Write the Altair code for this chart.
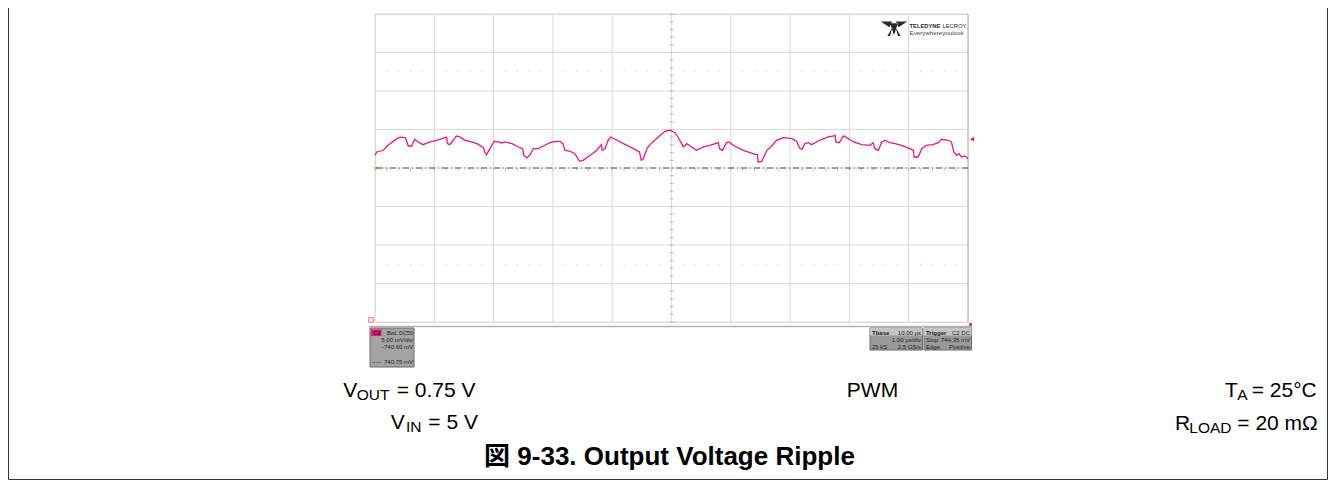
import altair as alt
import pandas as pd

# ---------------- data ----------------
time_us = [0.00, 0.03, 0.14, 0.22, 0.37, 0.42, 0.51, 0.53, 0.56, 0.62,
           0.65, 0.67, 0.73, 0.81, 0.93, 1.04, 1.18, 1.21, 1.22, 1.26,
           1.32, 1.37, 1.43, 1.52, 1.60, 1.72, 1.83, 1.85, 1.88, 1.94,
           2.01, 2.08, 2.14, 2.19, 2.31, 2.42, 2.49, 2.51, 2.56, 2.61,
           2.67, 2.75, 2.84, 2.95, 3.04, 3.12, 3.17, 3.20, 3.29, 3.37,
           3.45, 3.51, 3.63, 3.74, 3.82, 3.83, 3.88, 3.93, 3.97, 4.05,
           4.19, 4.36, 4.46, 4.49, 4.52, 4.59, 4.67, 4.81, 4.89, 4.97,
           5.06, 5.11, 5.17, 5.20, 5.26, 5.34, 5.42, 5.54, 5.65, 5.79,
           5.81, 5.86, 5.93, 5.97, 6.04, 6.21, 6.41, 6.45, 6.46, 6.52,
           6.61, 6.69, 6.77, 6.89, 7.03, 7.11, 7.16, 7.20, 7.25, 7.31,
           7.36, 7.50, 7.64, 7.74, 7.76, 7.77, 7.83, 7.90, 7.98, 8.07,
           8.21, 8.35, 8.40, 8.43, 8.49, 8.54, 8.60, 8.68, 8.77, 8.88,
           9.02, 9.08, 9.09, 9.16, 9.22, 9.30, 9.41, 9.50, 9.55, 9.66,
           9.72, 9.76, 9.81, 9.85, 9.89, 9.95, 10.00]
vout_mv = [742.25, 742.68, 742.90, 743.55, 744.41, 744.59, 744.54, 744.20, 743.46, 743.46,
           743.98, 744.33, 743.98, 743.63, 743.98, 744.20, 744.54, 744.59, 743.76, 743.63,
           744.20, 744.76, 744.63, 744.20, 744.07, 743.76, 743.24, 742.68, 742.33, 743.11,
           744.07, 743.98, 743.85, 743.98, 743.76, 743.33, 743.11, 742.25, 741.90, 742.25,
           743.11, 743.11, 743.46, 743.89, 744.07, 744.07, 743.76, 742.90, 742.77, 742.46,
           741.47, 741.60, 742.25, 742.90, 743.63, 742.90, 743.11, 744.20, 744.63, 744.33,
           743.76, 743.11, 742.68, 741.60, 741.73, 743.20, 743.89, 744.85, 745.37, 745.50,
           745.18, 744.63, 743.76, 743.33, 743.76, 743.33, 742.90, 743.33, 743.55, 743.89,
           743.11, 742.90, 743.89, 743.98, 743.55, 742.90, 742.38, 742.33, 741.38, 741.47,
           742.90, 743.46, 744.20, 744.54, 744.41, 744.07, 743.20, 743.03, 743.76, 743.89,
           743.63, 744.20, 744.63, 744.76, 744.85, 743.98, 743.89, 744.76, 744.41, 743.98,
           743.63, 743.55, 743.89, 743.11, 742.90, 743.89, 744.20, 743.89, 743.76, 743.55,
           743.11, 742.90, 742.03, 742.03, 743.11, 743.55, 743.63, 743.89, 744.33, 744.20,
           743.98, 742.68, 742.25, 742.46, 742.03, 742.16, 741.81]

x_divs = [0, 1, 2, 3, 4, 5, 6, 7, 8, 9, 10]                 # 1 us/div
y_divs = [720.6, 725.6, 730.6, 735.6, 740.6, 745.6, 750.6, 755.6, 760.6]  # 5 mV/div
offset_mv = 740.6
trigger_mv = 744.35

W, H = 593, 308
PL, PT = 367, 6           # plot origin at page (375, 14)
TRACE = "#f0157d"
GRID = "#dadada"
FONT = "Liberation Sans"
BIG, SUB = 21, 15.5

xs = alt.Scale(domain=[0, 10], nice=False, zero=False)
ys = alt.Scale(domain=[720.6, 760.6], nice=False, zero=False)

one = alt.Data(values=[{"a": 1}])


def px(page_x):
    return page_x - 375


def py(page_y):
    return page_y - 14


def text(s, x, y, size=BIG, align="left", weight="normal", color="#000000", font=FONT):
    return alt.Chart(one).mark_text(
        align=align, baseline="alphabetic", fontSize=size, fontWeight=weight,
        color=color, font=font
    ).encode(x=alt.value(px(x)), y=alt.value(py(y)), text=alt.value(s))


def rect(x1, y1, x2, y2, fill, stroke=None, sw=0):
    kw = dict(fill=fill)
    if stroke:
        kw.update(stroke=stroke, strokeWidth=sw)
    return alt.Chart(one).mark_rect(**kw).encode(
        x=alt.value(px(x1)), x2=alt.value(px(x2)),
        y=alt.value(py(y1)), y2=alt.value(py(y2)))


def hline(x1, x2, y, color, sw=1):
    return alt.Chart(one).mark_rule(color=color, strokeWidth=sw).encode(
        x=alt.value(px(x1)), x2=alt.value(px(x2)), y=alt.value(py(y)))


def vline(x, y1, y2, color, sw=1):
    return alt.Chart(one).mark_rule(color=color, strokeWidth=sw).encode(
        x=alt.value(px(x)), y=alt.value(py(y1)), y2=alt.value(py(y2)))


layers = []

# outer frame (top edge lies above the visible page)
layers.append(vline(8.5, 0, 479.5, "#333333"))
layers.append(vline(1327.5, 0, 479.5, "#333333"))
layers.append(hline(8.5, 1327.5, 479.5, "#333333"))

# grid
layers.append(alt.Chart(pd.DataFrame({"g": x_divs})).mark_rule(color=GRID, strokeWidth=1).encode(
    x=alt.X("g:Q", scale=xs, axis=None)))
layers.append(alt.Chart(pd.DataFrame({"g": y_divs})).mark_rule(color=GRID, strokeWidth=1).encode(
    y=alt.Y("g:Q", scale=ys, axis=None)))
layers.append(vline(968, 14, 322, "#c8c8c8", 1.5))

# dotted markers at +/- 2.5 div
dot_x = [i + f for i in range(10) for f in (0.2, 0.4, 0.6, 0.8)]
dots = pd.DataFrame({"x": dot_x * 2,
                     "y": [offset_mv + 12.5] * len(dot_x) + [offset_mv - 12.5] * len(dot_x)})
layers.append(alt.Chart(dots).mark_square(size=1.3, color="#c0c0c0", opacity=1).encode(
    x=alt.X("x:Q", scale=xs, axis=None), y=alt.Y("y:Q", scale=ys, axis=None)))

# minor ticks on center lines
ymin = [720.6 + i for i in range(41)]
layers.append(alt.Chart(pd.DataFrame({"m": ymin})).mark_rule(color="#b8b8b8", strokeWidth=1).encode(
    y=alt.Y("m:Q", scale=ys, axis=None), x=alt.value(W / 2 - 2), x2=alt.value(W / 2 + 2)))
xmin = [i * 0.2 for i in range(51)]
layers.append(alt.Chart(pd.DataFrame({"m": xmin})).mark_rule(color="#c4c4c4", strokeWidth=1).encode(
    x=alt.X("m:Q", scale=xs, axis=None), y=alt.value(H / 2), y2=alt.value(H / 2 + 3)))

# channel offset (dash-dot) line
layers.append(alt.Chart(pd.DataFrame({"o": [offset_mv]})).mark_rule(
    color="#505050", strokeWidth=1, strokeDash=[6, 3, 1, 3]).encode(
    y=alt.Y("o:Q", scale=ys, axis=None)))

# waveform
df = pd.DataFrame({"t": time_us, "v": vout_mv})
layers.append(alt.Chart(df).mark_line(color=TRACE, strokeWidth=1.3).encode(
    x=alt.X("t:Q", scale=xs, axis=None), y=alt.Y("v:Q", scale=ys, axis=None)))

# markers
layers.append(alt.Chart(pd.DataFrame({"v": [trigger_mv]})).mark_point(
    shape="triangle-left", filled=True, size=22, color=TRACE, opacity=1).encode(
    x=alt.value(W + 4), y=alt.Y("v:Q", scale=ys, axis=None)))
layers.append(alt.Chart(pd.DataFrame({"v": [offset_mv]})).mark_point(
    shape="triangle-left", filled=True, size=14, color="#33cc33", opacity=1).encode(
    x=alt.value(1), y=alt.Y("v:Q", scale=ys, axis=None)))
layers.append(alt.Chart(one).mark_square(size=20, filled=False, color=TRACE, strokeWidth=1).encode(
    x=alt.value(px(371)), y=alt.value(py(320))))
layers.append(alt.Chart(one).mark_circle(size=12, color=TRACE, opacity=1).encode(
    x=alt.value(px(970.5)), y=alt.value(py(324.5))))

# bottom separator of the scope screen
layers.append(hline(369, 972, 326.5, "#b4b4b4", 1.5))

# logo
logo_path = ("M-1,-0.5 L-0.15,-0.5 L-0.35,-0.05 Z "
             "M1,-0.5 L0.15,-0.5 L0.35,-0.05 Z "
             "M-0.3,-0.35 L0.3,-0.35 L0,0.55 Z "
             "M-0.12,-0.05 L-0.5,0.6 L-0.3,0.6 Z M0.12,-0.05 L0.5,0.6 L0.3,0.6 Z")
layers.append(alt.Chart(one).mark_point(shape=logo_path, filled=True, size=700, color="#2a2a2a",
                                        opacity=1).encode(
    x=alt.value(px(894)), y=alt.value(py(28))))
layers.append(text("TELEDYNE", 909.5, 28.3, size=5.8, weight="bold", color="#2a2a2a"))
layers.append(text("LECROY", 942.5, 28.3, size=5.8, color="#2a2a2a"))
layers.append(text("Everywhereyoulook", 909.5, 34.5, size=6.2, color="#444444"))

# channel info box
layers.append(rect(370, 328, 414, 367, "#a4a4a4", "#6a6a6a", 1))
layers.append(rect(371, 329.5, 381.5, 336, TRACE))
layers.append(text("C2", 373, 335, size=6, weight="bold", color="#222222"))
layers.append(text("BwL DC50", 413, 335, size=5.5, align="right", color="#222222"))
layers.append(text("5.00 mV/div", 413, 342, size=6, align="right", color="#222222"))
layers.append(text("-740.60 mV", 413, 349, size=6, align="right", color="#222222"))
layers.append(text("-----", 371.5, 364, size=6, color="#222222"))
layers.append(text("740.75 mV", 413, 364, size=6, align="right", color="#222222"))

# timebase / trigger boxes
layers.append(rect(870, 328, 922.5, 350, "#9a9a9a", "#6a6a6a", 1))
layers.append(rect(870, 328, 922.5, 335.5, "#c4c4c4"))
layers.append(text("Tbase", 872, 334.5, size=6, weight="bold", color="#222222"))
layers.append(text("10.00 µs", 921, 334.5, size=6, align="right", color="#222222"))
layers.append(text("1.00 µs/div", 921, 342, size=6, align="right", color="#222222"))
layers.append(text("25 kS", 872, 349, size=6, color="#222222"))
layers.append(text("2.5 GS/s", 921, 349, size=6, align="right", color="#222222"))
layers.append(rect(924, 328, 971.5, 350, "#9a9a9a", "#6a6a6a", 1))
layers.append(rect(924, 328, 971.5, 335.5, "#c4c4c4"))
layers.append(text("Trigger", 926, 334.5, size=6, weight="bold", color="#222222"))
layers.append(text("C2 DC", 970, 334.5, size=6, align="right", color="#222222"))
layers.append(text("Stop", 926, 342, size=6, color="#222222"))
layers.append(text("744.35 mV", 970, 342, size=6, align="right", color="#222222"))
layers.append(text("Edge", 926, 349, size=6, color="#222222"))
layers.append(text("Positive", 970, 349, size=6, align="right", color="#222222"))

# condition labels
layers.append(text("V", 343.3, 396.7))
layers.append(text("OUT", 356.7, 400.3, size=SUB))
layers.append(text("= 0.75 V", 396.7, 396.7))
layers.append(text("V", 390.7, 428.5))
layers.append(text("IN", 406, 432, size=SUB))
layers.append(text("= 5 V", 428.3, 428.5))
layers.append(text("PWM", 872.5, 396.5, align="center"))
layers.append(text("T", 1225, 396.7))
layers.append(text("A", 1237.3, 400.3, size=SUB))
layers.append(text("= 25°C", 1251.7, 396.7))
layers.append(text("R", 1175, 429.5))
layers.append(text("LOAD", 1189.3, 433, size=SUB))
layers.append(text("= 20 mΩ", 1237.3, 429.5))

# caption
layers.append(text("図 9-33. Output Voltage Ripple", 669.5, 465, size=26, align="center", weight="bold",
                   font="Liberation Sans, Noto Sans CJK JP"))

chart = alt.layer(*layers).properties(
    width=W, height=H,
    padding={"left": PL, "top": PT, "right": 1320 - PL - W, "bottom": 472 - PT - H},
    autosize=alt.AutoSizeParams(type="none"),
).configure_view(stroke=None).configure(background="white")

chart.save("out.html", embed_options={"renderer": "svg", "actions": False})
